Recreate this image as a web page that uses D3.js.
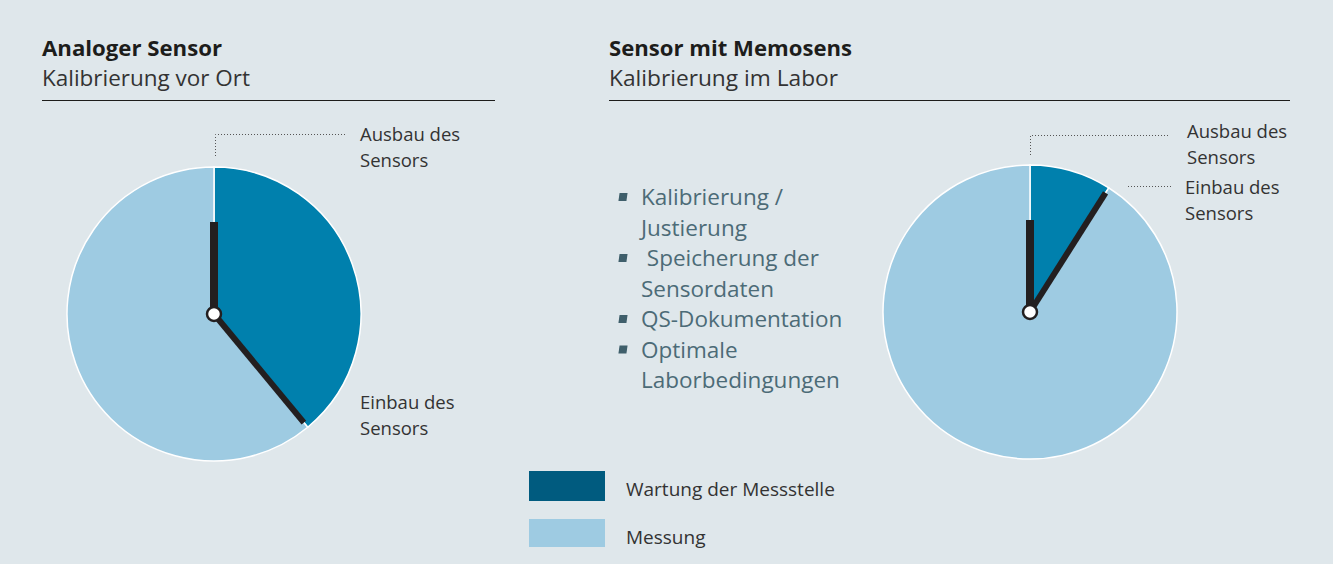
<!DOCTYPE html>
<html>
<head>
<meta charset="utf-8">
<script src="https://cdn.jsdelivr.net/npm/d3@7"></script>
<style>
  body { margin: 0; background: #fff; }
  svg { display: block; font-family: "Open Sans", sans-serif; }
</style>
</head>
<body>
<div id="chart"></div>
<script>
// data
const categories = ["Wartung der Messstelle", "Messung"];
const analogValues = [39, 61];
const memosensValues = [9, 91];
const bulletItems = [["Kalibrierung /", "Justierung"], [" Speicherung der", "Sensordaten"], ["QS-Dokumentation"], ["Optimale", "Laborbedingungen"]];

const width = 1333, height = 564;
const sliceColor = d3.scaleOrdinal().domain(categories).range(["#0080ad", "#9ecbe2"]);
const legendColor = d3.scaleOrdinal().domain(categories).range(["#005b7f", "#9ecbe2"]);

const svg = d3.select("#chart").append("svg")
    .attr("width", width)
    .attr("height", height);

svg.append("rect")
    .attr("width", width).attr("height", height)
    .attr("fill", "#dfe7eb");

const pie = d3.pie().sort(null);
const r = 147;
const arc = d3.arc().innerRadius(0).outerRadius(r);

// one clock-like pie
function drawPanel(opts) {
    // header
    svg.append("text").attr("x", opts.x).attr("y", 56)
        .attr("font-size", 22).attr("font-weight", 700).attr("fill", "#1d1d1b")
        .attr("textLength", opts.titleLen).attr("lengthAdjust", "spacingAndGlyphs")
        .text(opts.title);
    svg.append("text").attr("x", opts.x).attr("y", 86)
        .attr("font-size", 22).attr("fill", "#333")
        .attr("textLength", opts.subLen).attr("lengthAdjust", "spacingAndGlyphs")
        .text(opts.subtitle);
    svg.append("line")
        .attr("x1", opts.x).attr("x2", opts.x2).attr("y1", 100.5).attr("y2", 100.5)
        .attr("stroke", "#1d1d1b").attr("stroke-width", 1);

    const g = svg.append("g").attr("transform", `translate(${opts.cx},${opts.cy})`);
    const arcs = pie(opts.values);

    g.selectAll("path").data(arcs).enter().append("path")
        .attr("d", arc)
        .attr("fill", (d, i) => sliceColor(categories[i]))
        .attr("stroke", "#fff")
        .attr("stroke-width", 1.5);

    // hands
    const a = arcs[0].endAngle;
    g.append("line")
        .attr("x1", 0).attr("y1", 0).attr("x2", 0).attr("y2", -92)
        .attr("stroke", "#231f20").attr("stroke-width", 8);
    const hl = r - 6;
    g.append("line")
        .attr("x1", 0).attr("y1", 0)
        .attr("x2", Math.sin(a) * hl).attr("y2", -Math.cos(a) * hl)
        .attr("stroke", "#231f20").attr("stroke-width", 6);
    g.append("circle").attr("r", 7)
        .attr("fill", "#fff").attr("stroke", "#231f20").attr("stroke-width", 2.5);

    return {g, a};
}

function leaderText(x, y, lines) {
    const t = svg.append("text").attr("x", x).attr("y", y)
        .attr("font-size", 18.5).attr("fill", "#333");
    lines.forEach((s, i) => {
        t.append("tspan").attr("x", x).attr("dy", i === 0 ? 0 : 26).text(s);
    });
}

function dotted(points) {
    svg.append("path")
        .attr("d", d3.line()(points))
        .attr("fill", "none")
        .attr("stroke", "#555")
        .attr("stroke-width", 1)
        .attr("stroke-dasharray", "1,2");
}

// left panel
drawPanel({x: 42, x2: 495, cx: 214, cy: 314, values: analogValues,
    title: "Analoger Sensor", subtitle: "Kalibrierung vor Ort", titleLen: 180, subLen: 208});
dotted([[215.5, 156], [215.5, 134.5], [345, 134.5]]);
leaderText(360, 141, ["Ausbau des", "Sensors"]);
leaderText(360, 409, ["Einbau des", "Sensors"]);

// right panel
drawPanel({x: 609, x2: 1290, cx: 1030, cy: 312, values: memosensValues,
    title: "Sensor mit Memosens", subtitle: "Kalibrierung im Labor", titleLen: 243, subLen: 229});
dotted([[1030.5, 155], [1030.5, 135.5], [1170, 135.5]]);
dotted([[1128, 186.5], [1172, 186.5]]);
leaderText(1187, 138, ["Ausbau des", "Sensors"]);
leaderText(1185, 194, ["Einbau des", "Sensors"]);

// bullet list
let by = 205;
bulletItems.forEach(item => {
    svg.append("rect")
        .attr("x", 619).attr("y", by - 12)
        .attr("width", 8).attr("height", 8)
        .attr("fill", "#3f5f6b")
        .attr("transform", `skewX(-8)`)
        .attr("transform-origin", `623px ${by - 8}px`);
    item.forEach((s, i) => {
        svg.append("text").attr("x", 641).attr("y", by + i * 30.5)
            .attr("font-size", 22.5).attr("fill", "#4c6b77")
            .attr("xml:space", "preserve")
            .style("white-space", "pre")
            .text(s);
    });
    by += item.length * 30.5;
});

// legend
const legend = svg.selectAll(".legend").data(categories).enter().append("g")
    .attr("class", "legend")
    .attr("transform", (d, i) => `translate(529,${471 + i * 48})`);
legend.append("rect")
    .attr("width", 76).attr("height", (d, i) => i === 0 ? 30 : 28)
    .attr("fill", d => legendColor(d));
legend.append("text")
    .attr("x", 97).attr("y", 25)
    .attr("font-size", 19).attr("fill", "#333")
    .text(d => d);
</script>
</body>
</html>
